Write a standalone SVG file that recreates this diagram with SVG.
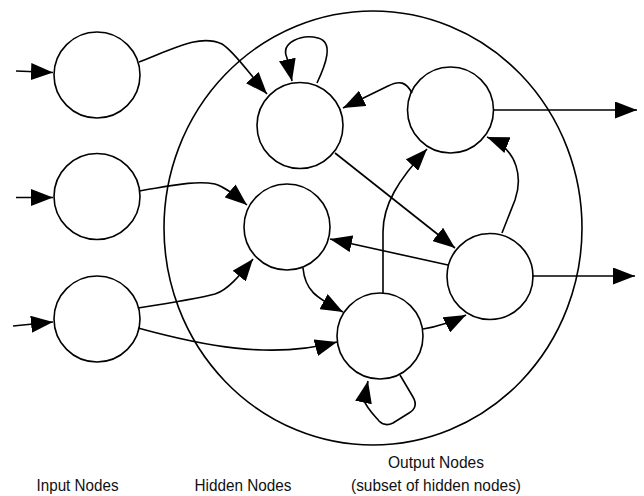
<svg xmlns="http://www.w3.org/2000/svg" width="644" height="496" viewBox="0 0 644 496">
<style>
.node{fill:#fff;stroke:#000;stroke-width:1.6}
.edge{fill:none;stroke:#000;stroke-width:1.6;marker-end:url(#ah)}
.lbl{font-family:"Liberation Sans",Arial,sans-serif;font-size:17px;fill:#111;text-anchor:middle}
</style>
<defs>
<marker id="ah" markerUnits="userSpaceOnUse" markerWidth="22" markerHeight="17" refX="22" refY="8.5" orient="auto" viewBox="0 0 22 17">
<path d="M0,0 L22,8.5 L0,17 z" fill="#000"/>
</marker>
</defs>
<rect width="644" height="496" fill="#fff"/>
<g id="hidden-region"><ellipse cx="373" cy="228" rx="209" ry="217" fill="none" stroke="#000" stroke-width="1.6"/></g>
<g id="input1"><circle class="node" cx="97" cy="75" r="43"/></g>
<g id="input2"><circle class="node" cx="97" cy="196.5" r="43"/></g>
<g id="input3"><circle class="node" cx="97" cy="319" r="43"/></g>
<g id="hidden1"><circle class="node" cx="300" cy="125.5" r="43"/></g>
<g id="hidden2"><circle class="node" cx="287" cy="227" r="43"/></g>
<g id="hidden3"><circle class="node" cx="380" cy="336" r="43"/></g>
<g id="output1"><circle class="node" cx="450.5" cy="110" r="43"/></g>
<g id="output2"><circle class="node" cx="490" cy="276.5" r="43"/></g>
<g id="connectors">
<path class="edge" d="M16,71 L53,72.5"/>
<path class="edge" d="M16,197.5 L53,197.5"/>
<path class="edge" d="M13,326 L53,322"/>
<path class="edge" d="M139,62 C175,48 200,34 222,44 C235,52 250,75 267,94"/>
<path class="edge" d="M317,83 C326,64 334,42 318,38 C302,34 280,42 287,58 L292,81"/>
<path class="edge" d="M412,93 C406,82 400,80 388,86 L343,108"/>
<path class="edge" d="M493,110 L637,110"/>
<path class="edge" d="M532,276 L635,276"/>
<path class="edge" d="M335,153 L455,248"/>
<path class="edge" d="M448,265 L330,239"/>
<path class="edge" d="M383,293 L383,232 C383,205 398,180 427,149"/>
<path class="edge" d="M502,233 L515,200 C522,180 520,150 487,137"/>
<path class="edge" d="M139,191 C170,186 195,180 215,184 C225,187 235,195 247,205"/>
<path class="edge" d="M138,308 C170,303 200,298 215,294 C228,290 240,275 253,259"/>
<path class="edge" d="M138,328 C200,345 270,360 337,342"/>
<path class="edge" d="M303,268 C305,290 315,297 343,312"/>
<path class="edge" d="M423,329 C435,327 448,324 466,315"/>
<path class="edge" d="M400,375 L413,397 C417,404 416,409 409,413 L393,423 C387,426 383,425 379,421 C372,413 366,407 364,400 L368,381"/>
</g>
<g id="labels">
<text class="lbl" x="77.5" y="491" textLength="82" lengthAdjust="spacingAndGlyphs">Input Nodes</text>
<text class="lbl" x="243" y="491" textLength="97" lengthAdjust="spacingAndGlyphs">Hidden Nodes</text>
<text class="lbl" x="436" y="468" textLength="96" lengthAdjust="spacingAndGlyphs">Output Nodes</text>
<text class="lbl" x="436" y="490.5" textLength="170" lengthAdjust="spacingAndGlyphs">(subset of hidden nodes)</text>
</g>
</svg>
